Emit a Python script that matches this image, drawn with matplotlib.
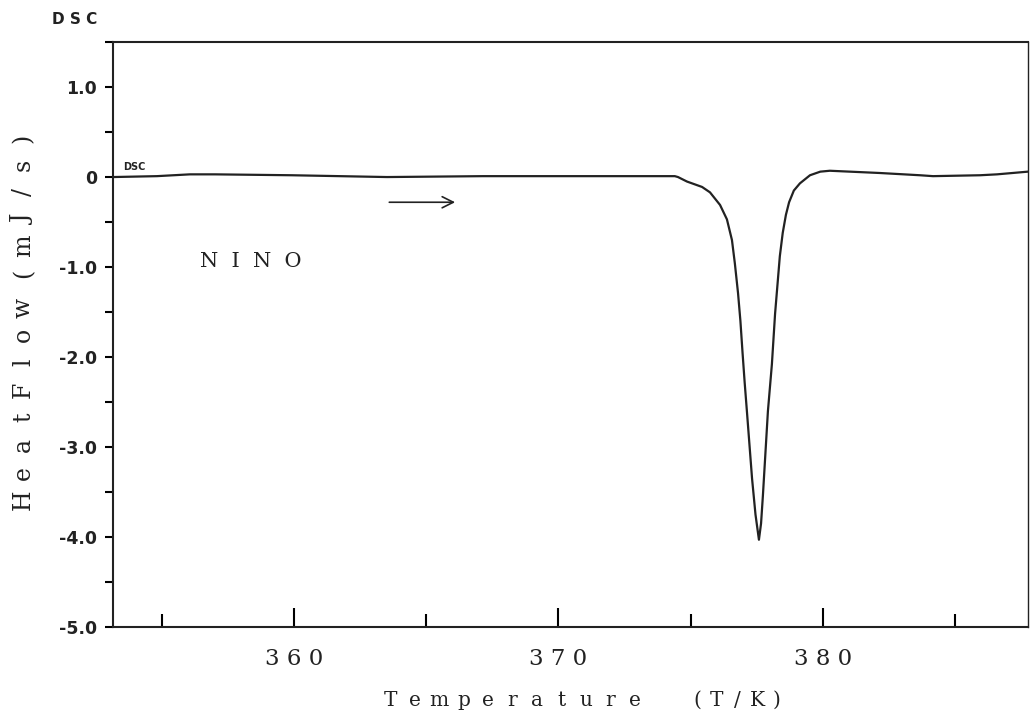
import matplotlib
matplotlib.use('Agg')
import matplotlib.pyplot as plt
from matplotlib.ticker import MultipleLocator

# DSC curve (T/K, mJ/s)
temperature = [353.16, 354.82, 356.07, 357.01, 359.92, 363.52, 367.15, 371.57,
               374.40, 374.52, 374.86, 375.43, 375.73, 376.11, 376.37, 376.56,
               376.67, 376.79, 376.88, 376.96, 377.04, 377.13, 377.32, 377.45,
               377.58, 377.66, 377.73, 377.92, 378.07, 378.19, 378.37, 378.48,
               378.60, 378.72, 378.90, 379.13, 379.51, 379.90, 380.26, 382.15,
               383.67, 384.16, 385.94, 386.58, 387.75]
heat_flow = [0.00, 0.01, 0.03, 0.03, 0.02, 0.00, 0.01, 0.01,
             0.01, 0.00, -0.05, -0.11, -0.17, -0.31, -0.47, -0.70,
             -0.96, -1.29, -1.60, -1.95, -2.28, -2.62, -3.35, -3.75,
             -4.03, -3.85, -3.54, -2.60, -2.08, -1.52, -0.88, -0.62,
             -0.42, -0.28, -0.15, -0.07, 0.02, 0.06, 0.07, 0.045,
             0.02, 0.01, 0.02, 0.03, 0.06]

x_ticks = [360, 370, 380]
x_tick_labels = ['3 6 0', '3 7 0', '3 8 0']
y_ticks = [1.0, 0.0, -1.0, -2.0, -3.0, -4.0, -5.0]
y_tick_labels = ['1.0', '0', '-1.0', '-2.0', '-3.0', '-4.0', '-5.0']

serif = ['DejaVu Serif']
sans = ['DejaVu Sans']
W, H = 1030, 714

fig = plt.figure(figsize=(W / 100, H / 100), dpi=100)
ax = fig.add_axes([0.1097, 0.1218, 0.8883, 0.8193])


def pitch_text(x, y, text, pitch, vertical=False, **kw):
    """plotter style lettering: one glyph every `pitch` pixels (x, y in pixels from top left)"""
    for i, ch in enumerate(text):
        if ch == ' ':
            continue
        if vertical:
            fig.text(x / W, 1 - (y - i * pitch) / H, ch, rotation=90, rotation_mode='anchor',
                     ha='center', va='baseline', **kw)
        else:
            fig.text((x + i * pitch) / W, 1 - y / H, ch, ha='center', va='baseline', **kw)


ax.plot(temperature, heat_flow, color='#222222', lw=1.6)

ax.set_xlim(353.16, 387.75)
ax.set_ylim(-5.0, 1.5)

for s in ax.spines.values():
    s.set_linewidth(1.5)
    s.set_color('#222222')
ax.spines['right'].set_linewidth(1.0)

# x axis: ticks pointing up into the plot
ax.set_xticks(x_ticks)
ax.set_xticklabels(x_tick_labels, fontfamily=serif, fontsize=16.5, color='#222222')
ax.xaxis.set_minor_locator(MultipleLocator(5))
ax.tick_params(axis='x', which='major', direction='in', length=14, width=1.5, pad=15)
ax.tick_params(axis='x', which='minor', direction='in', length=9.5, width=1.5)

# y axis: short ticks outward
ax.set_yticks(y_ticks)
ax.set_yticklabels(y_tick_labels, fontfamily=sans, fontweight='bold', fontsize=12.5,
                   color='#222222')
ax.yaxis.set_minor_locator(MultipleLocator(0.5))
ax.tick_params(axis='y', which='both', direction='out', length=6, width=1.5, pad=5.5)

# axis titles
pitch_text(390, 706, 'Temperature', 24.5, fontfamily=serif, fontsize=14.5, color='#222222')
pitch_text(697, 706, '(T/K)', 20, fontfamily=serif, fontsize=14.5, color='#222222')
pitch_text(30, 500, 'Heat', 27.5, vertical=True, fontfamily=serif, fontsize=17, color='#222222')
pitch_text(30, 390, 'Flow', 27.5, vertical=True, fontfamily=serif, fontsize=17, color='#222222')
pitch_text(30, 273, '(mJ/s)', 27, vertical=True, fontfamily=serif, fontsize=17, color='#222222')

fig.text(75 / W, 1 - 20 / H, 'D S C', ha='center', va='center', fontfamily=sans,
         fontweight='bold', fontsize=11, color='#222222')
ax.text(353.54, 0.06, 'DSC', ha='left', va='bottom', fontfamily=sans,
        fontweight='bold', fontsize=7, color='#222222')
ax.text(356.45, -0.94, 'N  I  N  O', ha='left', va='center', fontfamily=serif, fontsize=15,
        color='#222222')
ax.annotate('', xy=(366.2, -0.28), xytext=(363.5, -0.28),
            arrowprops=dict(arrowstyle='->', color='#222222', lw=1.2, mutation_scale=20))

fig.savefig('out.png', dpi=100)
